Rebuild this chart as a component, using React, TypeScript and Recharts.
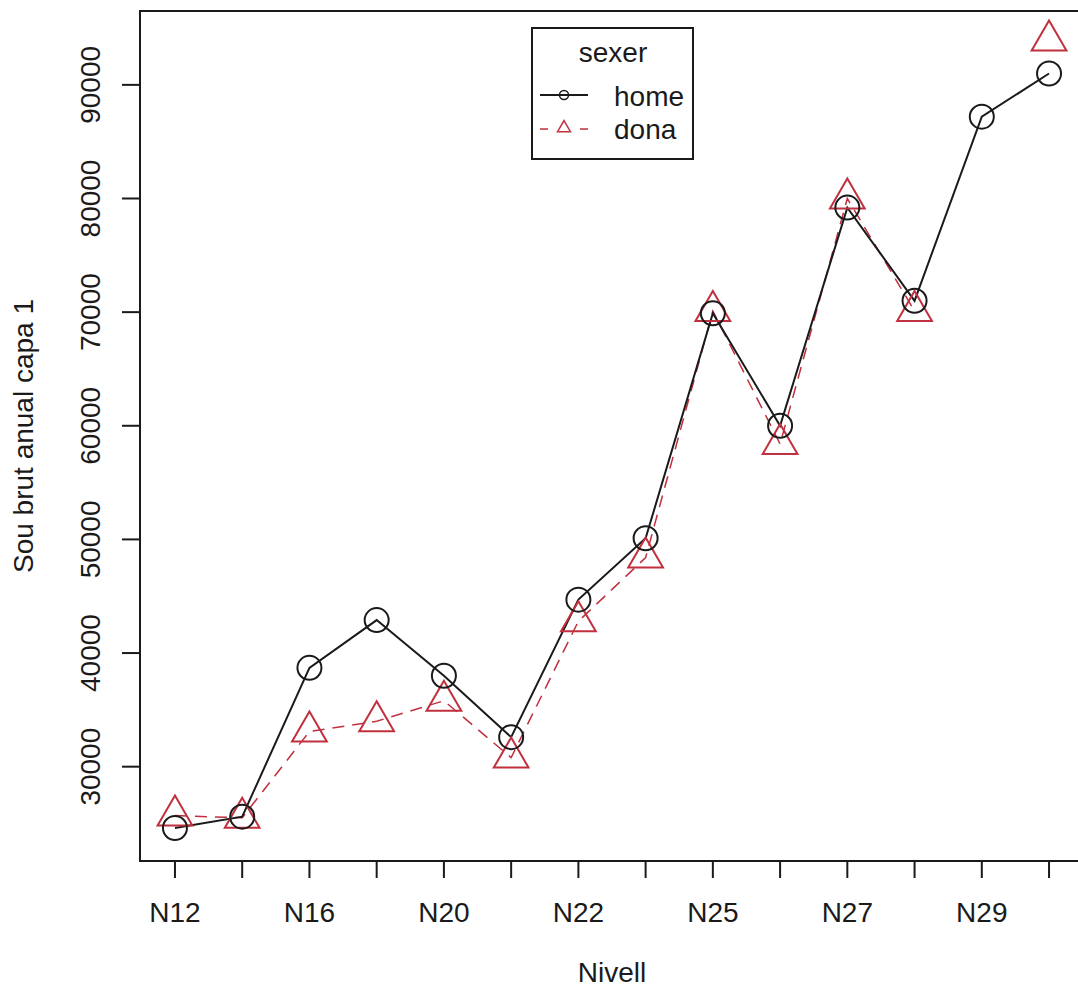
import React from "react";
import { LineChart, Line, XAxis, YAxis, ReferenceArea, Legend } from "recharts";

// level codes along the x axis (only every other one gets a printed label)
const nivells = ["N12", "N14", "N16", "N18", "N20", "N21", "N22", "N24", "N25", "N26", "N27", "N28", "N29", "N30"];
// mean gross salary, men / women
const homeSalary = [24600, 25600, 38700, 42900, 38000, 32600, 44700, 50100, 69900, 60000, 79200, 71000, 87200, 91000];
const donaSalary = [25700, 25500, 33100, 34000, 35800, 30800, 42800, 48400, 70100, 58400, 80000, 70100, null, 93900];
const yTicks = [30000, 40000, 50000, 60000, 70000, 80000, 90000];

const legendTitle = "sexer";
const xTitle = "Nivell";
const yTitle = "Sou brut anual capa 1";

const data = nivells.map((nivell, i) => ({
  pos: i + 1,
  nivell,
  home: homeSalary[i],
  dona: donaSalary[i],
}));

const FONT = "Arial, 'Liberation Sans', sans-serif";
const INK = "#1a1a1a";
const RED = "#c0303f";
const FS = 28;
const X_DOMAIN: [number, number] = [0.48, 14.52];
const Y_DOMAIN: [number, number] = [21700, 96500];

function CircleDot(props: any) {
  const { cx, cy, index, radius = 12, sw = 2 } = props;
  if (cx == null || cy == null || Number.isNaN(cy)) return <g key={`c-${index}`} />;
  return <circle key={`c-${index}`} cx={cx} cy={cy} r={radius} fill="none" stroke={INK} strokeWidth={sw} />;
}

function TriangleDot(props: any) {
  const { cx, cy, index, size = 12.9, sw = 2 } = props;
  if (cx == null || cy == null || Number.isNaN(cy)) return <g key={`t-${index}`} />;
  const top = cy - 1.555 * size;
  const bottom = cy + 0.7776 * size;
  const half = 1.3468 * size;
  return (
    <path
      key={`t-${index}`}
      d={`M${cx},${top}L${cx + half},${bottom}L${cx - half},${bottom}Z`}
      fill="none"
      stroke={RED}
      strokeWidth={sw}
      strokeLinejoin="miter"
    />
  );
}

function XTick({ x, y, payload }: any) {
  const i = payload.value - 1;
  const label = i % 2 === 0 ? nivells[i] : "";
  return (
    <text x={x} y={y} dy={20} textAnchor="middle" fontFamily={FONT} fontSize={FS} fill={INK}>
      {label}
    </text>
  );
}

function YTick({ x, y, payload }: any) {
  return (
    <text
      x={x}
      y={y}
      transform={`rotate(-90 ${x} ${y})`}
      textAnchor="middle"
      fontFamily={FONT}
      fontSize={FS}
      fill={INK}
    >
      {payload.value}
    </text>
  );
}

function XTitle({ viewBox }: any) {
  return (
    <text x={viewBox.x + viewBox.width / 2} y={viewBox.y + 121} textAnchor="middle" fontFamily={FONT} fontSize={FS} fill={INK}>
      {xTitle}
    </text>
  );
}

function YTitle({ viewBox }: any) {
  const x = viewBox.x + 33;
  const y = viewBox.y + viewBox.height / 2;
  return (
    <text x={x} y={y} transform={`rotate(-90 ${x} ${y})`} textAnchor="middle" fontFamily={FONT} fontSize={FS} fill={INK}>
      {yTitle}
    </text>
  );
}

function LegendBox() {
  return (
    <svg width={163} height={133} style={{ display: "block" }}>
      <rect x={1} y={1} width={161} height={131} fill="#fff" stroke={INK} strokeWidth={2} />
      <text x={82} y={35} textAnchor="middle" fontFamily={FONT} fontSize={FS} fill={INK}>
        {legendTitle}
      </text>
      <line x1={9} x2={57} y1={68} y2={68} stroke={INK} strokeWidth={2} />
      <CircleDot cx={33} cy={68} radius={4.5} sw={1.5} index={0} />
      <text x={83} y={79} fontFamily={FONT} fontSize={FS} fill={INK}>
        home
      </text>
      <line x1={9} x2={57} y1={102} y2={102} stroke={RED} strokeWidth={1.5} strokeDasharray="8 32" />
      <TriangleDot cx={33} cy={101} size={4.8} sw={1.5} index={0} />
      <text x={83} y={112} fontFamily={FONT} fontSize={FS} fill={INK}>
        dona
      </text>
    </svg>
  );
}

export default function App() {
  return (
    <div
      style={{
        position: "absolute",
        left: 0,
        top: 0,
        width: 1078,
        height: 989,
        overflow: "hidden",
        background: "#fff",
      }}
    >
      <LineChart width={1100} height={989} data={data} margin={{ top: 11, right: 16, bottom: 0, left: 0 }}>
        <XAxis
          type="number"
          dataKey="pos"
          domain={X_DOMAIN}
          ticks={nivells.map((_, i) => i + 1)}
          interval={0}
          allowDataOverflow
          axisLine={false}
          tickSize={17}
          tickMargin={24}
          tickLine={{ stroke: INK, strokeWidth: 2 }}
          tick={XTick}
          height={128}
          label={XTitle}
        />
        <YAxis
          type="number"
          domain={Y_DOMAIN}
          ticks={yTicks}
          allowDataOverflow
          axisLine={false}
          tickSize={18}
          tickMargin={22}
          tickLine={{ stroke: INK, strokeWidth: 2 }}
          tick={YTick}
          width={140}
          label={YTitle}
        />
        <ReferenceArea
          x1={X_DOMAIN[0]}
          x2={X_DOMAIN[1]}
          y1={Y_DOMAIN[0]}
          y2={Y_DOMAIN[1]}
          fill="none"
          stroke={INK}
          strokeWidth={2}
          ifOverflow="visible"
        />
        <Line
          type="linear"
          dataKey="dona"
          stroke={RED}
          strokeWidth={1.5}
          strokeDasharray="12 8"
          dot={TriangleDot}
          activeDot={false}
          connectNulls={false}
          isAnimationActive={false}
        />
        <Line
          type="linear"
          dataKey="home"
          stroke={INK}
          strokeWidth={2}
          dot={CircleDot}
          activeDot={false}
          isAnimationActive={false}
        />
        <Legend
          content={LegendBox}
          layout="vertical"
          align="center"
          verticalAlign="middle"
          wrapperStyle={{ left: 531, top: 27, width: 163, height: 133 }}
        />
      </LineChart>
    </div>
  );
}
